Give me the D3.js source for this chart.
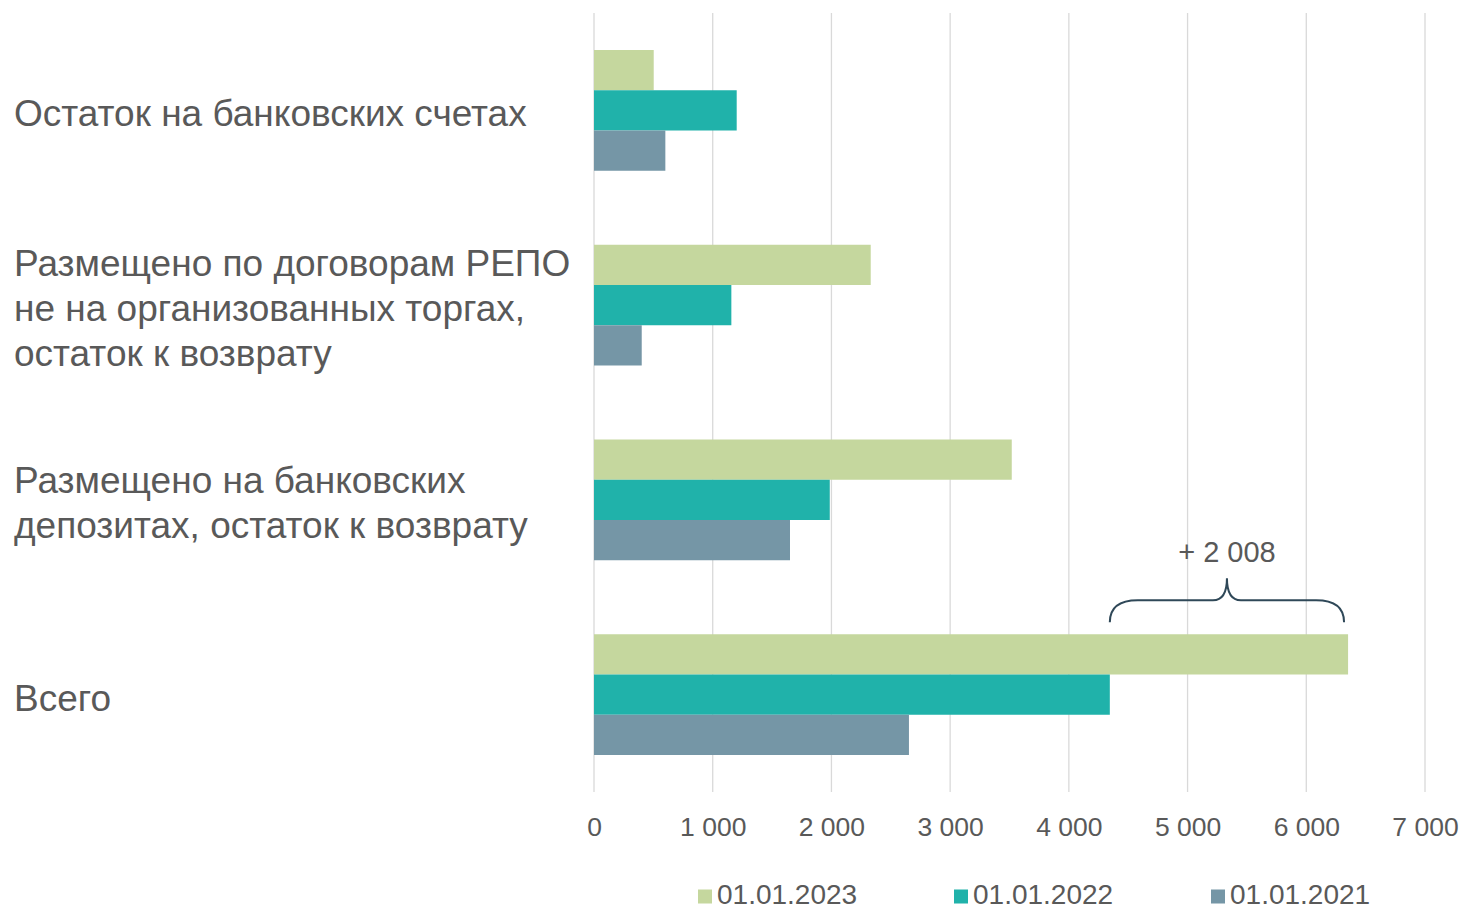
<!DOCTYPE html>
<html>
<head>
<meta charset="utf-8">
<script src="https://cdn.jsdelivr.net/npm/d3@7"></script>
<style>
  body { margin: 0; background: #fff; }
  text { font-family: "Liberation Sans", Arial, sans-serif; fill: #595959; }
</style>
</head>
<body>
<div id="chart"></div>
<script>
var svgWidth = 1463;
var svgHeight = 909;

// categories (top to bottom), each label split into lines
var categories = [
  ["Остаток на банковских счетах"],
  ["Размещено по договорам РЕПО", "не на организованных торгах,", "остаток к возврату"],
  ["Размещено на банковских", "депозитах, остаток к возврату"],
  ["Всего"]
];
var seriesNames = ["01.01.2023", "01.01.2022", "01.01.2021"];
var values2023 = [503, 2331, 3519, 6352];
var values2022 = [1202, 1157, 1986, 4345];
var values2021 = [601, 402, 1651, 2653];
var xTicks = [0, 1000, 2000, 3000, 4000, 5000, 6000, 7000];
var deltaLabel = "+ 2 008";

var colors = ["#c5d79e", "#20b2aa", "#7596a6"];
var seriesValues = [values2023, values2022, values2021];

var margin = { top: 13, right: 38, bottom: 117, left: 594 };
var width = svgWidth - margin.left - margin.right;
var height = svgHeight - margin.top - margin.bottom;

var svg = d3.select("#chart")
  .append("svg")
  .attr("width", svgWidth)
  .attr("height", svgHeight);

var chartGroup = svg.append("g")
  .attr("transform", `translate(${margin.left}, ${margin.top})`);

var xScale = d3.scaleLinear()
  .domain([0, 7000])
  .range([0, width]);

var yScale = d3.scaleBand()
  .domain(d3.range(categories.length))
  .range([0, height])
  .paddingInner(0.38)
  .paddingOuter(0.19);

var ySub = d3.scaleBand()
  .domain(d3.range(seriesNames.length))
  .range([0, yScale.bandwidth()]);

// gridlines
chartGroup.append("g")
  .selectAll("line")
  .data(xTicks)
  .enter()
  .append("line")
  .attr("x1", d => xScale(d))
  .attr("x2", d => xScale(d))
  .attr("y1", 0)
  .attr("y2", height)
  .attr("stroke", "#d9d9d9")
  .attr("stroke-width", 1.3);

// x axis labels
var bottomAxis = d3.axisBottom(xScale)
  .tickValues(xTicks)
  .tickSize(0)
  .tickPadding(25)
  .tickFormat(d => d3.format(",")(d).replace(/,/g, " "));

var xAxis = chartGroup.append("g")
  .attr("transform", `translate(0, ${height})`)
  .call(bottomAxis);
xAxis.select(".domain").remove();
xAxis.selectAll("text")
  .style("font-size", "26.5px")
  .style("font-family", "Liberation Sans, Arial, sans-serif")
  .attr("fill", "#595959");

// bars
var groups = chartGroup.selectAll(".cat")
  .data(categories)
  .enter()
  .append("g")
  .attr("class", "cat")
  .attr("transform", (d, i) => `translate(0, ${yScale(i)})`);

groups.selectAll("rect")
  .data((d, i) => seriesValues.map((s, k) => ({ k: k, v: s[i] })))
  .enter()
  .append("rect")
  .attr("x", xScale(0))
  .attr("y", d => ySub(d.k))
  .attr("width", d => xScale(d.v) - xScale(0))
  .attr("height", ySub.bandwidth())
  .attr("fill", d => colors[d.k]);

// category labels (baseline-based, centred on the group)
var lineHeight = 45;
var catLabels = svg.append("g");
categories.forEach(function(lines, i) {
  var cy = margin.top + yScale(i) + yScale.bandwidth() / 2 + 3;
  var firstBase = cy + 13 - (lines.length - 1) * lineHeight / 2;
  var t = catLabels.append("text")
    .style("font-size", "37px");
  lines.forEach(function(l, j) {
    t.append("tspan")
      .attr("x", 14)
      .attr("y", firstBase + j * lineHeight)
      .text(l);
  });
});

// brace showing the difference for "Всего"
var last = categories.length - 1;
var bx1 = xScale(values2022[last]);
var bx2 = xScale(values2023[last]) - 4;
var bmid = (bx1 + bx2) / 2;
var bBottom = yScale(last) - 12;
var bLine = bBottom - 22;
var bTip = bLine - 22;
var r = 14;
var bracePath = d3.path();
bracePath.moveTo(bx1, bBottom);
bracePath.quadraticCurveTo(bx1, bLine, bx1 + r * 2, bLine);
bracePath.lineTo(bmid - r, bLine);
bracePath.quadraticCurveTo(bmid, bLine, bmid, bTip);
bracePath.quadraticCurveTo(bmid, bLine, bmid + r, bLine);
bracePath.lineTo(bx2 - r * 2, bLine);
bracePath.quadraticCurveTo(bx2, bLine, bx2, bBottom);

chartGroup.append("path")
  .attr("d", bracePath.toString())
  .attr("fill", "none")
  .attr("stroke", "#2f4858")
  .attr("stroke-width", 2);

chartGroup.append("text")
  .attr("x", bmid)
  .attr("y", bTip - 16)
  .attr("text-anchor", "middle")
  .style("font-size", "29px")
  .text(deltaLabel);

// legend
var legendX = [698, 954, 1211];
var legend = svg.append("g");
seriesNames.forEach(function(name, k) {
  legend.append("rect")
    .attr("x", legendX[k])
    .attr("y", 889.5)
    .attr("width", 14)
    .attr("height", 14)
    .attr("fill", colors[k]);
  legend.append("text")
    .attr("x", legendX[k] + 19)
    .attr("y", 904)
    .style("font-size", "28px")
    .text(name);
});
</script>
</body>
</html>
